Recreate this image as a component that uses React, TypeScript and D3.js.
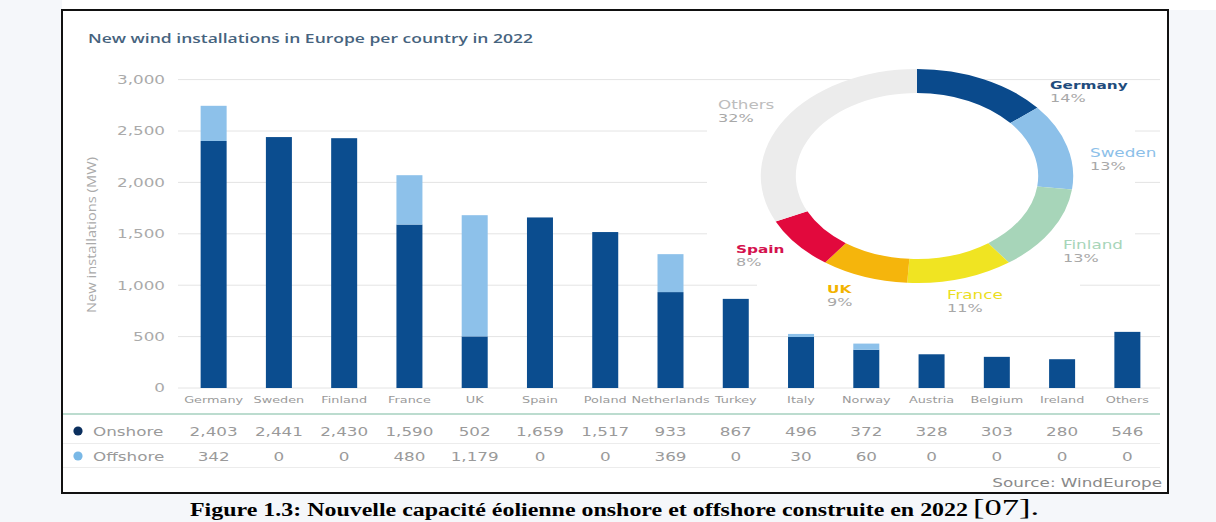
import React from "react";
import * as d3 from "d3";

const countries = ["Germany","Sweden","Finland","France","UK","Spain","Poland","Netherlands","Turkey","Italy","Norway","Austria","Belgium","Ireland","Others"];
const onshore = [2403,2441,2430,1590,502,1659,1517,933,867,496,372,328,303,280,546];
const offshore = [342,0,0,480,1179,0,0,369,0,30,60,0,0,0,0];
const yTicks = [0,500,1000,1500,2000,2500,3000];

const shareNames = ["Germany","Sweden","Finland","France","UK","Spain","Others"];
const shareValues = [14,13,13,11,9,8,32];
const shareColors = ["#0a4a8c","#8cc0e9","#a7d5b9","#f0e422","#f5b50c","#e2093d","#ececec"];
const shareLabelColors = ["#1f4c7d","#8cc0e9","#a7d5b9","#ebde1e","#f2b300","#d4124e","#bdbdbd"];
const shareLabelBold = [true,false,false,false,true,true,false];
const shareLabelPos: [number, number][] = [[1050,89],[1090,157],[1063,249],[947,299],[827,293],[736,253],[718,109]];

const SX = 1.46;
const FONT = "DejaVu Sans";

function ST(props: any) {
  const { x, y, anchor = "start", size = 11.5, fill = "#999", weight = "normal", children } = props;
  return (
    <text transform={`translate(${x},${y}) scale(${SX},1)`} textAnchor={anchor}
      fontFamily={FONT} fontSize={size} fill={fill} fontWeight={weight}>{children}</text>
  );
}

export default function App() {
  const W = 1216, H = 522;
  const x = d3.scalePoint<string>().domain(countries).range([181, 1160]).padding(0.5);
  const y = d3.scaleLinear().domain([0, 3000]).range([388, 79.6]);
  const barW = 26;
  const rows = countries.map((c, i) => ({ c, on: onshore[i], off: offshore[i] }));
  const stack = d3.stack<any>().keys(["on", "off"])(rows);
  const fmt = d3.format(",");

  const pie = d3.pie<number>().sort(null).value((d) => d)(shareValues);
  const arc = d3.arc<any>().innerRadius(83).outerRadius(107);

  return (
    <div style={{ position: "fixed", left: 0, top: 0 }}>
      <svg width={W} height={H} style={{ display: "block" }}>
        <rect x={0} y={0} width={W} height={H} fill="#f5f7fa" />
        <rect x={62} y={0} width={W - 62} height={10} fill="#ffffff" />
        <rect x={62} y={10} width={1106} height={483} fill="#ffffff" stroke="#111" strokeWidth={2} />

        <text x={88} y={43} fontFamily="Open Sans" fontSize={13} fontWeight={600} fill="#46637e"
          textLength={445} lengthAdjust="spacingAndGlyphs">New wind installations in Europe per country in 2022</text>

        {yTicks.map((t) => (
          <g key={t}>
            <line x1={178} x2={1160} y1={y(t)} y2={y(t)} stroke="#e4e4e4" strokeWidth={1} />
            <ST x={165} y={y(t) + 4.3} anchor="end" size={11.5} fill="#aaaaaa">{fmt(t)}</ST>
          </g>
        ))}
        <text transform="translate(96,235) rotate(-90)" textAnchor="middle" fontFamily="Open Sans"
          fontSize={13} fill="#aaaaaa" textLength={156} lengthAdjust="spacingAndGlyphs">New installations (MW)</text>

        {stack.map((layer, li) => (
          <g key={li} fill={li === 0 ? "#0b4d8f" : "#8dc1ea"}>
            {layer.map((d, i) => (
              d[1] > d[0] ? (
                <rect key={i} x={(x(countries[i]) as number) - barW / 2} width={barW}
                  y={y(d[1])} height={y(d[0]) - y(d[1])} />
              ) : null
            ))}
          </g>
        ))}

        {/* white area behind the donut */}
        <rect x={707} y={83} width={428} height={180} fill="#ffffff" />
        <rect x={757} y={262} width={323} height={38} fill="#ffffff" />

        <g transform={`translate(917,176) scale(${SX},1)`}>
          {pie.map((p, i) => (
            <path key={i} d={arc(p) as string} fill={shareColors[i]} />
          ))}
        </g>
        {shareNames.map((n, i) => (
          <g key={n}>
            <ST x={shareLabelPos[i][0]} y={shareLabelPos[i][1]} size={shareLabelBold[i] ? 10.5 : 11.5}
              weight={shareLabelBold[i] ? "bold" : "normal"} fill={shareLabelColors[i]}>{n}</ST>
            <ST x={shareLabelPos[i][0]} y={shareLabelPos[i][1] + 13} size={11} fill="#a8a8a8">{shareValues[i] + "%"}</ST>
          </g>
        ))}

        {countries.map((c) => (
          <ST key={c} x={x(c)} y={402.5} anchor="middle" size={8.8} fill="#9a9a9a">{c}</ST>
        ))}

        <line x1={63} x2={1160} y1={414} y2={414} stroke="#bcdccf" strokeWidth={2} />
        <line x1={63} x2={1160} y1={443.5} y2={443.5} stroke="#ececec" strokeWidth={1} />
        <line x1={63} x2={1160} y1={467.5} y2={467.5} stroke="#ececec" strokeWidth={1} />

        <circle cx={78} cy={431} r={4.6} fill="#0b2f5e" />
        <ST x={93} y={435.5} size={11.5} fill="#9a9a9a">Onshore</ST>
        <circle cx={78} cy={456} r={4.6} fill="#79b8e6" />
        <ST x={93} y={460.5} size={11.5} fill="#9a9a9a">Offshore</ST>

        {rows.map((r) => (
          <g key={r.c}>
            <ST x={x(r.c)} y={435.5} anchor="middle" size={11.5} fill="#9a9a9a">{fmt(r.on)}</ST>
            <ST x={x(r.c)} y={460.5} anchor="middle" size={11.5} fill="#9a9a9a">{fmt(r.off)}</ST>
          </g>
        ))}

        <ST x={1162} y={487} anchor="end" size={11.5} fill="#8a8a8a">Source: WindEurope</ST>

        <text x={190} y={516} fontFamily="Liberation Serif" fontWeight="bold" fontSize={18} fill="#000"
          textLength={778} lengthAdjust="spacingAndGlyphs">Figure 1.3: Nouvelle capacité éolienne onshore et offshore construite en 2022</text>
        <text x={973} y={515} fontFamily="Liberation Serif" fontSize={23} fill="#000"
          textLength={66} lengthAdjust="spacingAndGlyphs">[07].</text>
      </svg>
    </div>
  );
}
